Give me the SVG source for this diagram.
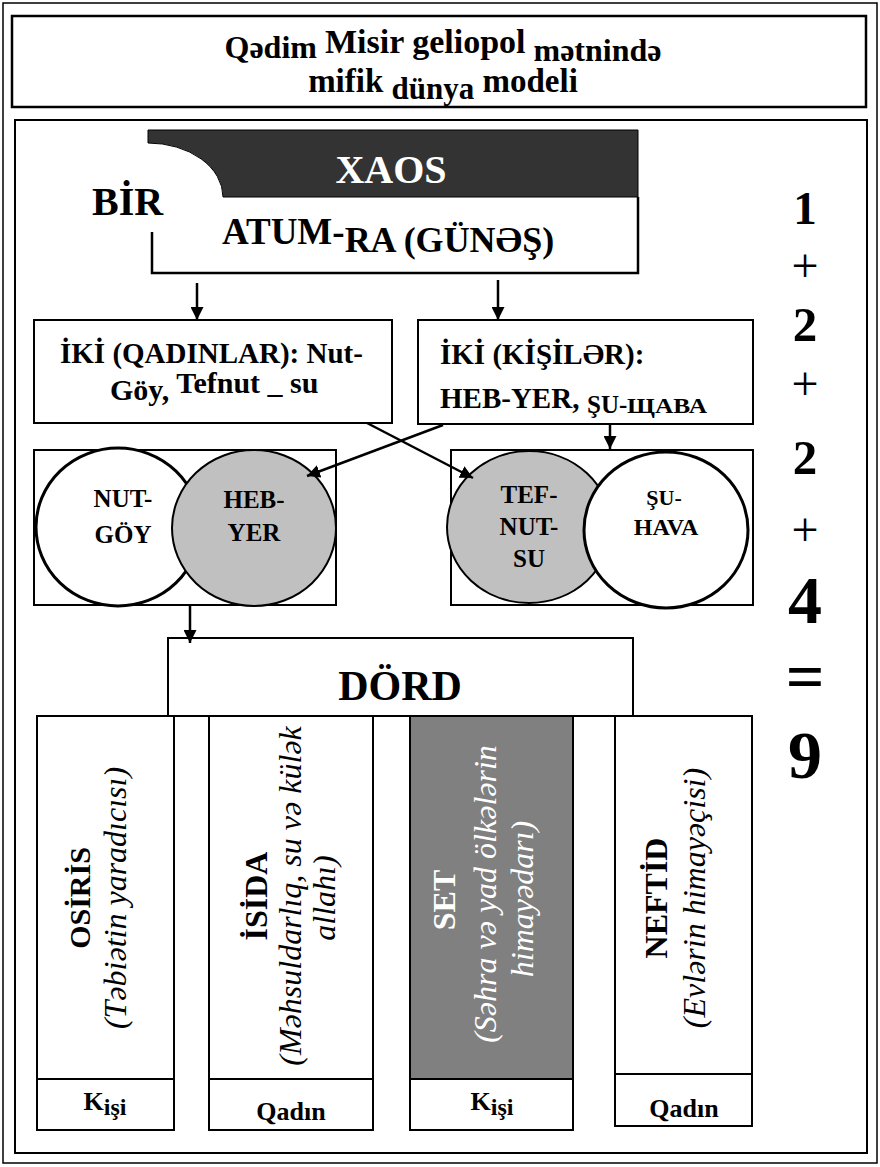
<svg xmlns="http://www.w3.org/2000/svg" width="880" height="1167" viewBox="0 0 880 1167">
<defs>
<style>
.box{fill:#fff;stroke:#000;stroke-width:2}
.ln{fill:none;stroke:#000;stroke-width:2.5}
.c{text-anchor:middle}
.w{fill:#fff}
</style>
<marker id="ah" viewBox="0 0 10 10" refX="10" refY="5" markerWidth="13" markerHeight="13" markerUnits="userSpaceOnUse" orient="auto">
<path d="M0,0 L10,5 L0,10 z" fill="#000"/>
</marker>
</defs>
<rect x="0" y="0" width="880" height="1167" fill="#fff"/>
<rect x="3" y="3" width="874" height="1160" fill="none" stroke="#000" stroke-width="1.5"/>

<g id="title">
<rect x="12" y="16" width="854" height="91" fill="#fff" stroke="#000" stroke-width="2.5"/>
<text x="443" y="58" class="c" font-family="Liberation Serif" font-weight="bold" font-size="32">Qədim <tspan dy="-5" font-size="34">Misir geliopol</tspan><tspan dy="8"> mətnində</tspan></text>
<text x="443" y="92" class="c" font-family="Liberation Serif" font-weight="bold" font-size="33">mifik <tspan dy="7" font-size="31">dünya</tspan><tspan dy="-7"> modeli</tspan></text>
</g>

<rect x="15" y="120" width="852" height="1033" fill="none" stroke="#000" stroke-width="2"/>

<g id="xaos">
<path d="M148,130 H638 V197 H223 A75,54 0 0 0 148,143 Z" fill="#333" stroke="#000" stroke-width="1"/>
<path d="M152,232 V273 H638 V197" class="ln" stroke-width="2"/>
<text x="92" y="215" font-family="Liberation Serif" font-weight="bold" font-size="40">BİR</text>
<text x="391" y="183" class="c w" font-family="Liberation Serif" font-weight="bold" font-size="40">XAOS</text>
<text x="222" y="244" font-family="Liberation Serif" font-weight="bold" font-size="37">ATUM-<tspan dy="8" font-size="36">RA (GÜNƏŞ)</tspan></text>
</g>

<g id="qadinlar">
<rect x="34" y="320" width="358" height="103" class="box"/>
<text x="60" y="363" font-family="Liberation Serif" font-weight="bold" font-size="29">İKİ (QADINLAR): Nut-</text>
<text x="110" y="400" font-family="Liberation Serif" font-weight="bold" font-size="30">Göy,<tspan dy="-7"> Tefnut _ su</tspan></text>
</g>

<g id="kisiler">
<rect x="418" y="320" width="335" height="104" class="box"/>
<text x="440" y="364" font-family="Liberation Serif" font-weight="bold" font-size="29">İKİ (KİŞİLƏR):</text>
<text x="440" y="408" font-family="Liberation Serif" font-weight="bold" font-size="29">HEB-YER,</text>
<text x="587" y="413" font-family="Liberation Serif" font-weight="bold" font-size="25">ŞU-</text>
<text x="627" y="413" font-family="Liberation Serif" font-weight="bold" font-size="22" textLength="80" lengthAdjust="spacingAndGlyphs">ЩАВА</text>
</g>

<g id="left-pair">
<rect x="34" y="450" width="302" height="155" class="box"/>
<ellipse cx="118" cy="527" rx="82" ry="79" fill="#fff" stroke="#000" stroke-width="3"/>
<ellipse cx="254" cy="528" rx="82" ry="78" fill="#c0c0c0" stroke="#000" stroke-width="2"/>
<text x="123" y="507" class="c" font-family="Liberation Serif" font-weight="bold" font-size="25">NUT-</text>
<text x="123" y="543" class="c" font-family="Liberation Serif" font-weight="bold" font-size="25">GÖY</text>
<text x="254" y="508" class="c" font-family="Liberation Serif" font-weight="bold" font-size="25">HEB-</text>
<text x="254" y="541" class="c" font-family="Liberation Serif" font-weight="bold" font-size="25">YER</text>
</g>

<g id="right-pair">
<rect x="451" y="450" width="302" height="155" class="box"/>
<ellipse cx="529" cy="527" rx="82" ry="76" fill="#c0c0c0" stroke="#000" stroke-width="2"/>
<ellipse cx="666" cy="530" rx="82" ry="78" fill="#fff" stroke="#000" stroke-width="3"/>
<text x="529" y="503" class="c" font-family="Liberation Serif" font-weight="bold" font-size="25">TEF-</text>
<text x="529" y="535" class="c" font-family="Liberation Serif" font-weight="bold" font-size="25">NUT-</text>
<text x="529" y="567" class="c" font-family="Liberation Serif" font-weight="bold" font-size="25">SU</text>
<text x="664" y="505" class="c" font-family="Liberation Serif" font-weight="bold" font-size="22">ŞU-</text>
<text x="666" y="535" class="c" font-family="Liberation Serif" font-weight="bold" font-size="24">HAVA</text>
</g>

<g id="dord">
<rect x="168" y="638" width="465" height="78" class="box"/>
<text x="400" y="700" class="c" font-family="Liberation Serif" font-weight="bold" font-size="42">DÖRD</text>
</g>

<g id="osiris">
<rect x="37" y="716" width="137" height="363" class="box"/>
<rect x="37" y="1079" width="137" height="51" class="box"/>
<text transform="translate(90,898) rotate(-90)" class="c" font-family="Liberation Serif" font-weight="bold" font-size="30">OSİRİS</text>
<text transform="translate(126,898) rotate(-90)" class="c" font-family="Liberation Serif" font-style="italic" font-size="32">(Təbiətin yaradıcısı)</text>
<text x="105" y="1110" class="c" font-family="Liberation Serif" font-weight="bold" font-size="26">K<tspan dy="5" font-size="24">işi</tspan></text>
</g>

<g id="isida">
<rect x="209" y="716" width="164" height="363" class="box"/>
<rect x="209" y="1079" width="164" height="51" class="box"/>
<text transform="translate(267,896) rotate(-90)" class="c" font-family="Liberation Serif" font-weight="bold" font-size="32">İSİDA</text>
<text transform="translate(301,896) rotate(-90)" class="c" font-family="Liberation Serif" font-style="italic" font-size="32">(Məhsuldarlıq, su və külək</text>
<text transform="translate(335,898) rotate(-90)" class="c" font-family="Liberation Serif" font-style="italic" font-size="32">allahı)</text>
<text x="291" y="1120" class="c" font-family="Liberation Serif" font-weight="bold" font-size="26">Qadın</text>
</g>

<g id="set">
<rect x="410" y="716" width="163" height="363" fill="#808080" stroke="#000" stroke-width="2"/>
<rect x="410" y="1079" width="163" height="51" class="box"/>
<text transform="translate(455,900) rotate(-90)" class="c w" font-family="Liberation Serif" font-weight="bold" font-size="32">SET</text>
<text transform="translate(496,894) rotate(-90)" class="c w" font-family="Liberation Serif" font-style="italic" font-size="32">(Səhra və yad ölkələrin</text>
<text transform="translate(533,899) rotate(-90)" class="c w" font-family="Liberation Serif" font-style="italic" font-size="32">himayədarı)</text>
<text x="492" y="1110" class="c" font-family="Liberation Serif" font-weight="bold" font-size="26">K<tspan dy="5" font-size="24">işi</tspan></text>
</g>

<g id="neftid">
<rect x="615" y="716" width="137" height="358" class="box"/>
<rect x="615" y="1074" width="137" height="52" class="box"/>
<text transform="translate(667,898) rotate(-90)" class="c" font-family="Liberation Serif" font-weight="bold" font-size="32">NEFTİD</text>
<text transform="translate(705,898) rotate(-90)" class="c" font-family="Liberation Serif" font-style="italic" font-size="32">(Evlərin himayəçisi)</text>
<text x="684" y="1117" class="c" font-family="Liberation Serif" font-weight="bold" font-size="26">Qadın</text>
</g>

<g id="equation">
<text x="805" y="224" class="c" font-family="Liberation Serif" font-weight="bold" font-size="47">1</text>
<text x="805" y="282" class="c" font-family="Liberation Serif" font-size="48">+</text>
<text x="805" y="341" class="c" font-family="Liberation Serif" font-weight="bold" font-size="49">2</text>
<text x="805" y="400" class="c" font-family="Liberation Serif" font-size="48">+</text>
<text x="805" y="474" class="c" font-family="Liberation Serif" font-weight="bold" font-size="49">2</text>
<text x="805" y="546" class="c" font-family="Liberation Serif" font-size="48">+</text>
<text x="805" y="623" class="c" font-family="Liberation Serif" font-weight="bold" font-size="68">4</text>
<text x="805" y="699" class="c" font-family="Liberation Serif" font-weight="bold" font-size="68">=</text>
<text x="805" y="778" class="c" font-family="Liberation Serif" font-weight="bold" font-size="68">9</text>
</g>

<g id="connectors">
<line x1="197" y1="283" x2="197" y2="320" class="ln" marker-end="url(#ah)"/>
<line x1="498" y1="280" x2="498" y2="320" class="ln" marker-end="url(#ah)"/>
<line x1="610" y1="424" x2="610" y2="449" class="ln" marker-end="url(#ah)"/>
<line x1="367" y1="423" x2="473" y2="478" class="ln" marker-end="url(#ah)"/>
<line x1="443" y1="425" x2="307" y2="476" class="ln" marker-end="url(#ah)"/>
<line x1="190" y1="605" x2="190" y2="643" class="ln" marker-end="url(#ah)"/>
</g>
</svg>
